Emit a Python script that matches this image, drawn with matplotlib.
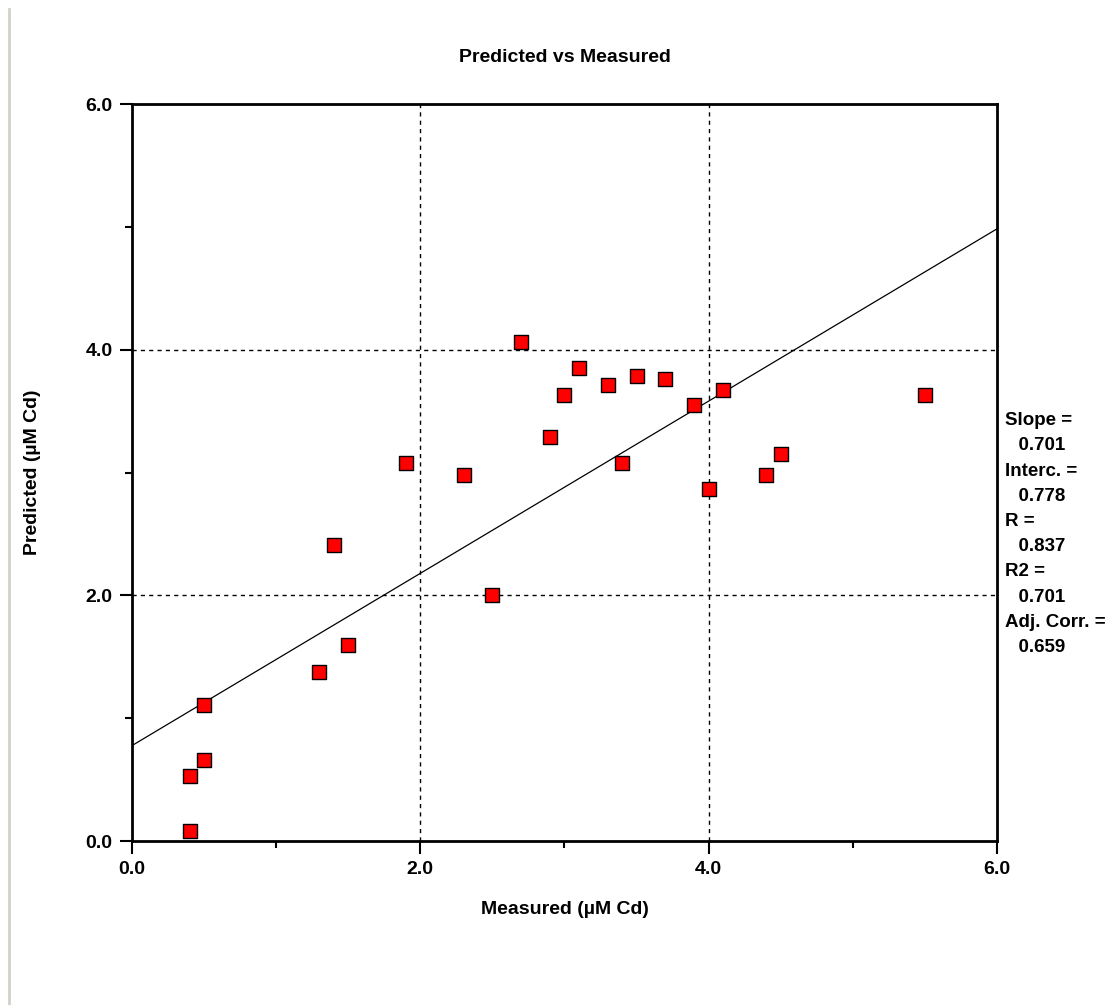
import numpy as np
import matplotlib.pyplot as plt
from matplotlib.ticker import MultipleLocator
from matplotlib.lines import Line2D

# Data
measured = [0.4, 0.4, 0.5, 0.5, 1.3, 1.4, 1.5, 1.9, 2.3, 2.5, 2.7, 2.9,
            3.0, 3.1, 3.3, 3.4, 3.5, 3.7, 3.9, 4.0, 4.1, 4.4, 4.5, 5.5]
predicted = [0.08, 0.53, 0.66, 1.11, 1.38, 2.41, 1.60, 3.08, 2.98, 2.00, 4.06, 3.29,
             3.63, 3.85, 3.71, 3.08, 3.79, 3.76, 3.55, 2.87, 3.67, 2.98, 3.15, 3.63]
stat_names = ["Slope =", "Interc. =", "R =", "R2 =", "Adj. Corr. ="]
stat_values = [0.701, 0.778, 0.837, 0.701, 0.659]
slope, intercept = stat_values[0], stat_values[1]
tick_labels = ["0.0", "2.0", "4.0", "6.0"]

plt.rcParams['font.family'] = ['Liberation Sans', 'DejaVu Sans']
plt.rcParams['font.weight'] = 'bold'
fs = 14

fig = plt.figure(figsize=(11.09, 10.05), dpi=100)
ax = fig.add_axes([0.119, 0.163, 0.780, 0.7335])

# frame line on the left of the picture
fig.add_artist(Line2D([0.0077, 0.0077], [0.0, 0.991], color='#d4d0c8', lw=2))

ax.set_xlim(0, 6)
ax.set_ylim(0, 6)

# dashed grid at 2 and 4
for v in (2, 4):
    ax.axvline(v, color='black', lw=1, ls=(0, (3, 3)), zorder=1)
    ax.axhline(v, color='black', lw=1, ls=(0, (3, 3)), zorder=1)

# regression line across the whole x range
xl = np.array(ax.get_xlim())
ax.plot(xl, intercept + slope * xl, color='black', lw=0.9, zorder=2)

ax.scatter(measured, predicted, marker='s', s=110, facecolor='#ff0000',
           edgecolor='black', linewidth=1, zorder=3)

ax.xaxis.set_minor_locator(MultipleLocator(1))
ax.yaxis.set_minor_locator(MultipleLocator(1))
ax.set_xticks([0, 2, 4, 6], tick_labels)
ax.set_yticks([0, 2, 4, 6], tick_labels)
ax.tick_params(which='major', direction='out', length=9, width=1.5, labelsize=fs, pad=5)
ax.tick_params(which='minor', direction='out', length=5, width=1.5)
for s in ax.spines.values():
    s.set_linewidth(2)

ax.set_title("Predicted vs Measured", fontsize=fs, fontweight='bold', pad=30)
ax.set_xlabel("Measured (µM Cd)", fontsize=fs, fontweight='bold', labelpad=17)
ax.set_ylabel("Predicted (µM Cd)", fontsize=fs, fontweight='bold', labelpad=32)

# statistics block to the right of the axes
y0 = 0.5815
step = 0.0251
for i, (name, val) in enumerate(zip(stat_names, stat_values)):
    fig.text(0.906, y0 - 2 * i * step, name, fontsize=13.5, fontweight='bold',
             ha='left', va='center')
    fig.text(0.909, y0 - (2 * i + 1) * step, f"  {val:.3f}", fontsize=13.5,
             fontweight='bold', ha='left', va='center')

fig.savefig("out.png", dpi=100)
